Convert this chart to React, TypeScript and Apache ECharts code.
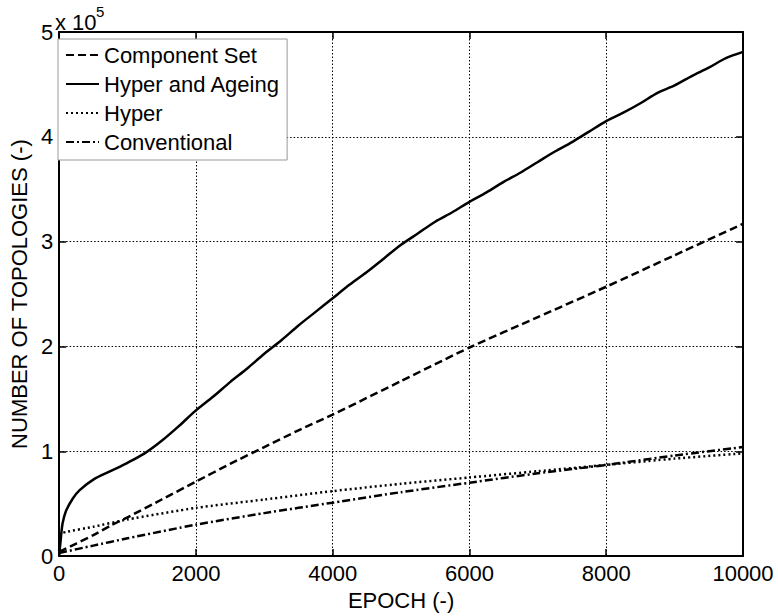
import React, { useEffect, useRef } from "react";
import * as echarts from "echarts";

// values in units of 10^5 topologies
const haEpochs = [0, 25, 50, 100, 200, 300, 500, 750, 1000, 1250, 1500, 1750, 2000, 2250, 2500, 2750, 3000, 3250, 3500, 3750, 4000, 4250, 4500, 4750, 5000, 5250, 5500, 5750, 6000, 6250, 6500, 6750, 7000, 7250, 7500, 7750, 8000, 8250, 8500, 8750, 9000, 9250, 9500, 9750, 10000];
const haValues = [0, 0.17, 0.31, 0.43, 0.55, 0.63, 0.73, 0.81, 0.89, 0.98, 1.10, 1.24, 1.39, 1.52, 1.66, 1.79, 1.93, 2.06, 2.20, 2.33, 2.46, 2.59, 2.71, 2.84, 2.97, 3.08, 3.19, 3.28, 3.38, 3.47, 3.57, 3.66, 3.76, 3.86, 3.95, 4.05, 4.15, 4.23, 4.32, 4.42, 4.49, 4.58, 4.66, 4.75, 4.81];

const csEpochs = [0, 250, 500, 750, 1000, 1500, 2000, 2500, 3000, 3500, 4000, 5000, 6000, 7000, 8000, 9000, 10000];
const csValues = [0.04, 0.12, 0.20, 0.29, 0.37, 0.54, 0.71, 0.88, 1.04, 1.20, 1.35, 1.67, 1.99, 2.28, 2.57, 2.87, 3.17];

const hyEpochs = [0, 20, 100, 500, 1000, 2000, 3000, 4000, 5000, 6000, 7000, 8000, 9000, 10000];
const hyValues = [0.05, 0.21, 0.23, 0.28, 0.35, 0.46, 0.54, 0.62, 0.69, 0.75, 0.81, 0.87, 0.93, 0.98];

const cvEpochs = [0, 500, 1000, 2000, 3000, 4000, 5000, 6000, 7000, 8000, 9000, 10000];
const cvValues = [0.03, 0.10, 0.17, 0.30, 0.41, 0.51, 0.61, 0.70, 0.79, 0.87, 0.96, 1.04];

const seriesNames = ["Component Set", "Hyper and Ageing", "Hyper", "Conventional"];
const xTitle = "EPOCH (-)";
const yTitle = "NUMBER OF TOPOLOGIES (-)";

const pairs = (xs: number[], ys: number[]) => xs.map((x, i) => [x, ys[i]]);

const FONT = "'Liberation Sans', Arial, sans-serif";

export default function App() {
  const ref = useRef<HTMLDivElement>(null);
  useEffect(() => {
    if (!ref.current) return;
    const chart = echarts.init(ref.current, null, { renderer: "svg" });
    const axisCommon = {
      axisLine: { show: true, onZero: false, lineStyle: { color: "#000", width: 2 } },
      axisTick: { show: true, inside: true, length: 7, lineStyle: { color: "#000", width: 1.5 } },
    };
    const lbl = { color: "#000", fontSize: 22, fontFamily: FONT };
    const plain = (v: number) => String(v);
    chart.setOption({
      animation: false,
      backgroundColor: "#fff",
      grid: { left: 53, right: 35, top: 32, bottom: 59, containLabel: false },
      legend: {
        show: true,
        orient: "vertical",
        left: 58,
        top: 39,
        padding: [4, 7, 6, 7],
        itemGap: 5,
        itemWidth: 33,
        itemHeight: 14,
        backgroundColor: "#fff",
        borderColor: "#999",
        borderWidth: 1,
        borderRadius: 0,
        itemStyle: { opacity: 0 },
        textStyle: { color: "#000", fontSize: 22, fontFamily: FONT, lineHeight: 24 },
        data: seriesNames,
      },
      xAxis: [
        {
          type: "value",
          position: "bottom",
          min: 0,
          max: 10000,
          interval: 2000,
          ...axisCommon,
          axisLabel: { ...lbl, margin: 6, formatter: plain },
          splitLine: { show: true, lineStyle: { color: "#000", width: 1, type: [1.5, 2] } },
          name: xTitle,
          nameLocation: "middle",
          nameGap: 28,
          nameTextStyle: { ...lbl },
        },
        {
          type: "value",
          position: "top",
          min: 0,
          max: 10000,
          interval: 2000,
          ...axisCommon,
          axisLabel: { show: false },
          splitLine: { show: false },
        },
      ],
      yAxis: [
        {
          type: "value",
          position: "left",
          min: 0,
          max: 5,
          interval: 1,
          ...axisCommon,
          axisLabel: { ...lbl, margin: 6, formatter: plain },
          splitLine: { show: true, lineStyle: { color: "#000", width: 1, type: [1.5, 2] } },
          name: yTitle,
          nameLocation: "middle",
          nameGap: 25,
          nameRotate: 90,
          nameTextStyle: { ...lbl },
        },
        {
          type: "value",
          position: "right",
          min: 0,
          max: 5,
          interval: 1,
          ...axisCommon,
          axisLabel: { show: false },
          splitLine: { show: false },
        },
      ],
      graphic: [
        {
          type: "text",
          left: 55,
          top: 11,
          style: { text: "x 10", fill: "#000", font: `22px ${FONT}` },
        },
        {
          type: "text",
          left: 96,
          top: 4,
          style: { text: "5", fill: "#000", font: `15px ${FONT}` },
        },
      ],
      series: [
        {
          name: seriesNames[0],
          type: "line",
          showSymbol: false,
          symbol: "none",
          smooth: 0.2,
          data: pairs(csEpochs, csValues),
          lineStyle: { color: "#000", width: 2.5, type: [8, 4] },
          itemStyle: { color: "#000" },
        },
        {
          name: seriesNames[1],
          type: "line",
          showSymbol: false,
          symbol: "none",
          smooth: 0.3,
          data: pairs(haEpochs, haValues),
          lineStyle: { color: "#000", width: 2.5, type: "solid" },
          itemStyle: { color: "#000" },
        },
        {
          name: seriesNames[2],
          type: "line",
          showSymbol: false,
          symbol: "none",
          smooth: 0.2,
          data: pairs(hyEpochs, hyValues),
          lineStyle: { color: "#000", width: 2.5, type: [2, 3] },
          itemStyle: { color: "#000" },
        },
        {
          name: seriesNames[3],
          type: "line",
          showSymbol: false,
          symbol: "none",
          smooth: 0.2,
          data: pairs(cvEpochs, cvValues),
          lineStyle: { color: "#000", width: 2.5, type: [8, 3, 2, 3] },
          itemStyle: { color: "#000" },
        },
      ],
    });
    return () => chart.dispose();
  }, []);
  return <div ref={ref} style={{ width: 778, height: 616, position: "absolute", left: 0, top: 0 }} />;
}
